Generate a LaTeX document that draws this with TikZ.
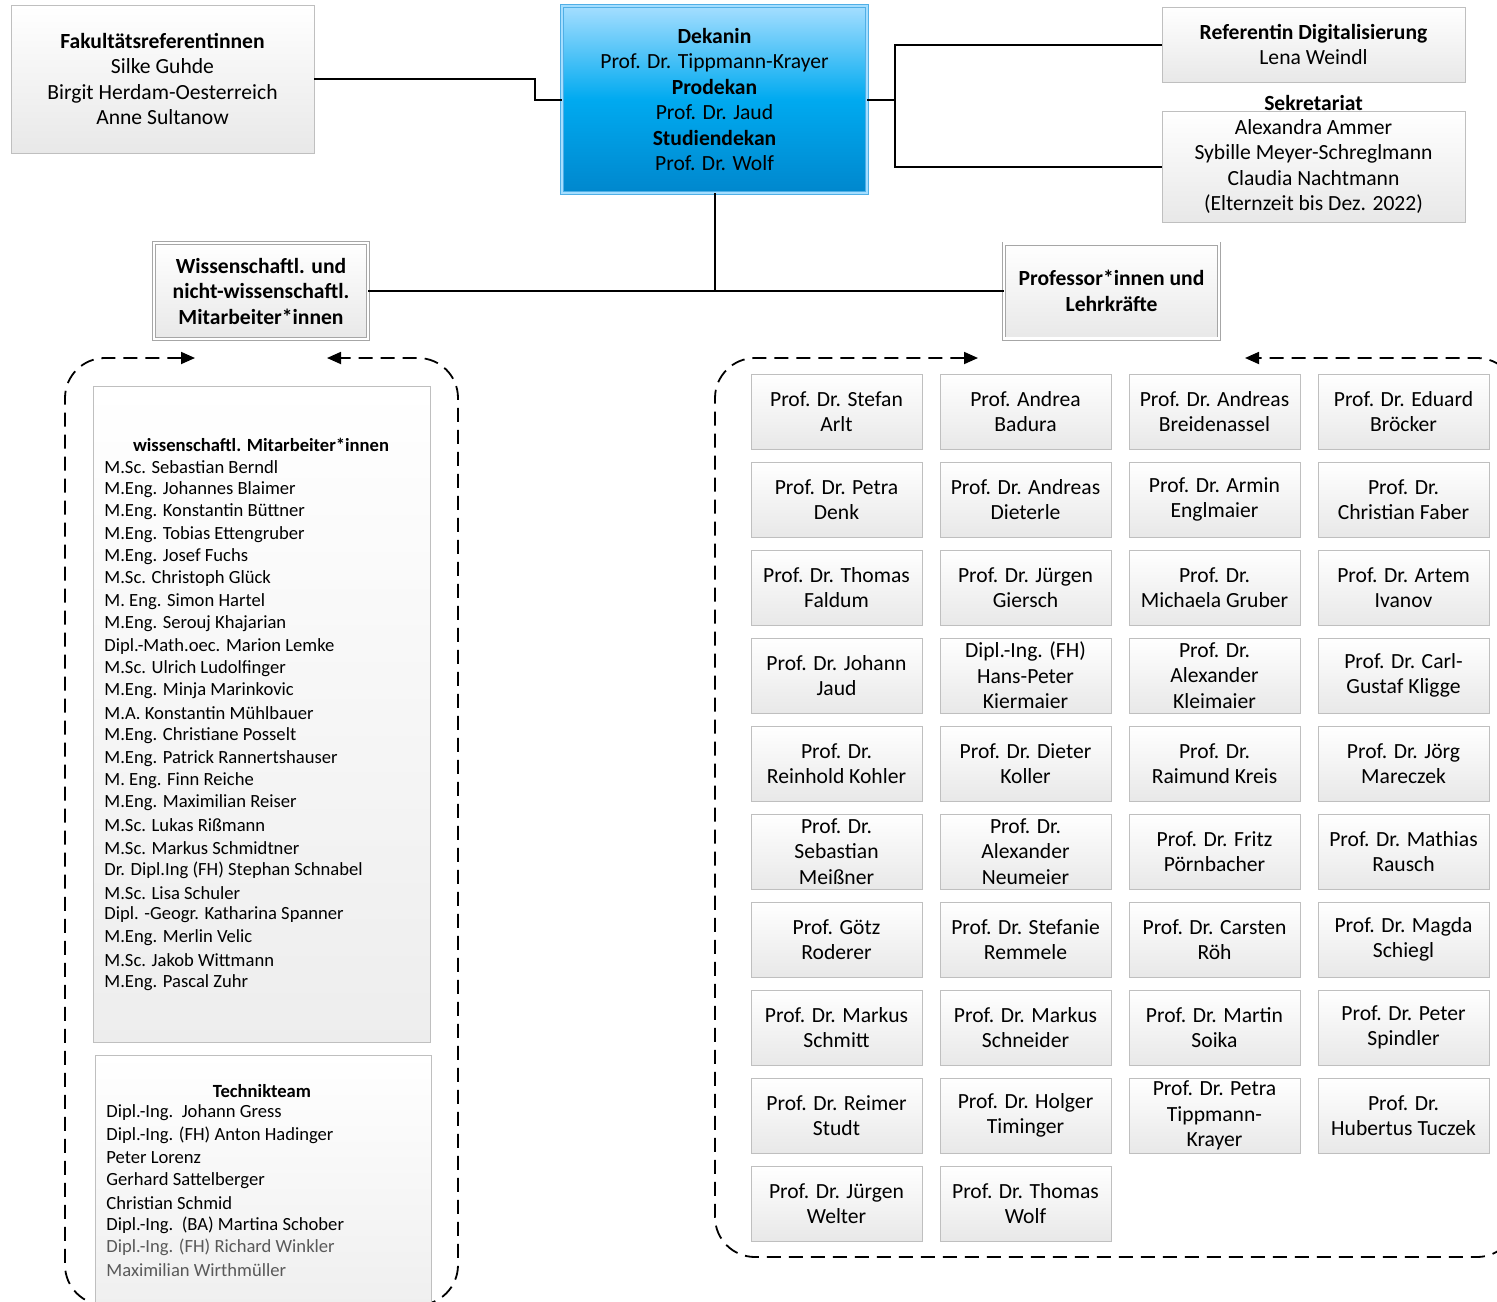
\documentclass[tikz,border=0pt]{standalone}
\usepackage{fontspec}
\setmainfont{Carlito}
\usetikzlibrary{arrows.meta}

\definecolor{deantop}{RGB}{165,222,255}
\definecolor{deanmid}{RGB}{0,170,240}
\definecolor{deanbot}{RGB}{0,135,205}
\definecolor{deanline}{RGB}{80,175,230}
\definecolor{boxline}{RGB}{191,191,191}

\tikzset{
  greybox/.style={draw=boxline, top color=white, bottom color=black!9, align=center, inner sep=0pt},
  profbox/.style={greybox, minimum width=85.5pt, minimum height=37.5pt},
  headbox/.style={greybox, draw=black!35, double=white, double distance=1.2pt},
  listbox/.style={draw=boxline, top color=white, bottom color=black!7, inner sep=0pt},
  listline/.style={anchor=west, inner sep=0pt, font=\fontsize{9.3}{11.2}\selectfont},
  link/.style={line width=1pt},
  looparrow/.style={line width=0.9pt, dash pattern=on 7pt off 4pt, rounded corners=20pt,
    {Triangle[length=7pt,width=6pt]}-{Triangle[length=7pt,width=6pt]}},
}

\begin{document}
\begin{tikzpicture}[x=0.5pt, y=-0.5pt, font=\fontsize{10.8}{12.75}\selectfont]
  \clip (0,0) rectangle (1497,1301);

  % leitung
  \node[greybox, minimum width=151.5pt, minimum height=74pt] (fak) at (162.5,79)
    {\textbf{Fakultätsreferentinnen}\\Silke Guhde\\Birgit Herdam-Oesterreich\\Anne Sultanow};
  \node[draw=deanline, double=deantop, double distance=1pt, top color=deantop, bottom color=deanbot,
    middle color=deanmid, align=center, inner sep=0pt, minimum width=152.5pt, minimum height=93.5pt]
    (dean) at (714.5,99.5)
    {\textbf{Dekanin}\\Prof. Dr. Tippmann-Krayer\\\textbf{Prodekan}\\Prof. Dr. Jaud\\\textbf{Studiendekan}\\Prof. Dr. Wolf};
  \node[greybox, minimum width=151.5pt, minimum height=37.5pt] (ref) at (1313.5,44.5)
    {\textbf{Referentin Digitalisierung}\\Lena Weindl};
  \node (sekhead) at (1313.5,103) {\textbf{Sekretariat}};
  \node[greybox, minimum width=151.5pt, minimum height=55.5pt] (sek) at (1313.5,166.5)
    {Alexandra Ammer\\Sybille Meyer-Schreglmann\\Claudia Nachtmann\\(Elternzeit bis Dez. 2022)};

  \node[headbox, minimum width=107pt, minimum height=48pt] (wiss) at (261,291)
    {\textbf{Wissenschaftl. und}\\\textbf{nicht-wissenschaftl.}\\\textbf{Mitarbeiter*innen}};
  \node[headbox, minimum width=107.5pt, minimum height=47.5pt] (prof) at (1111.5,291)
    {\textbf{Professor*innen und}\\\textbf{Lehrkräfte}};

  \draw[link] (fak.east) -- ++(221,0) |- (dean.west);
  \coordinate (split) at (895,99.5);
  \draw[link] (dean.east) -- (split);
  \draw[link] (ref.west) -| (split) |- (sek.west);
  \coordinate (hub) at (dean.south |- wiss.east);
  \draw[link] (dean.south) -- (hub);
  \draw[link] (wiss.east) -- (prof.west);

  % mitarbeiter
  \draw[looparrow] (195,358) -- (65,358) -- (65,1305) -- (458,1305) -- (458,358) -- (327,358);
  \node[listbox, minimum width=168.5pt, minimum height=328pt] (wlist) at (261.5,714) {};
  \node[font=\fontsize{9.3}{11.2}\selectfont] (whead) at (261,445) {\textbf{wissenschaftl. Mitarbeiter*innen}};
  \foreach \who [count=\i] in {M.Sc. Sebastian Berndl, M.Eng. Johannes Blaimer, M.Eng. Konstantin Büttner,
      M.Eng. Tobias Ettengruber, M.Eng. Josef Fuchs, M.Sc. Christoph Glück, M. Eng. Simon Hartel,
      M.Eng. Serouj Khajarian, Dipl.-Math.oec. Marion Lemke, M.Sc. Ulrich Ludolfinger,
      M.Eng. Minja Marinkovic, M.A. Konstantin Mühlbauer, M.Eng. Christiane Posselt,
      M.Eng. Patrick Rannertshauser, M. Eng. Finn Reiche, M.Eng. Maximilian Reiser,
      M.Sc. Lukas Rißmann, M.Sc. Markus Schmidtner, Dr. Dipl.Ing (FH) Stephan Schnabel,
      M.Sc. Lisa Schuler, Dipl. -Geogr. Katharina Spanner, M.Eng. Merlin Velic,
      M.Sc. Jakob Wittmann, M.Eng. Pascal Zuhr}
    \node[listline] (w\i) at (104,467+22.4*\i-22.4) {\who};

  \node[listbox, minimum width=168pt, minimum height=140pt] (tlist) at (263,1195) {};
  \node[font=\fontsize{9.3}{11.2}\selectfont] (thead) at (262,1091) {\textbf{Technikteam}};
  \foreach \who [count=\i] in {Dipl.-Ing.\ \ Johann Gress, Dipl.-Ing. (FH) Anton Hadinger, Peter Lorenz,
      Gerhard Sattelberger, Christian Schmid, Dipl.-Ing.\ \ (BA) Martina Schober}
    \node[listline] (t\i) at (106,1113+22.4*\i-22.4) {\who};
  \node[listline, text=black!65] (t7) at (106,1247.4) {Dipl.-Ing. (FH) Richard Winkler};
  \node[listline, text=black!65] (t8) at (106,1269.8) {Maximilian Wirthmüller};

  % professoren
  \draw[looparrow] (978,358) -- (715,358) -- (715,1257) -- (1517,1257) -- (1517,358) -- (1245,358);
  \foreach \c/\r/\who in {
      1/1/{Prof. Dr. Stefan\\Arlt}, 2/1/{Prof. Andrea\\Badura}, 3/1/{Prof. Dr. Andreas\\Breidenassel}, 4/1/{Prof. Dr. Eduard\\Bröcker},
      1/2/{Prof. Dr. Petra\\Denk}, 2/2/{Prof. Dr. Andreas\\Dieterle}, 3/2/{Prof. Dr. Armin\\Englmaier}, 4/2/{Prof. Dr.\\Christian Faber},
      1/3/{Prof. Dr. Thomas\\Faldum}, 2/3/{Prof. Dr. Jürgen\\Giersch}, 3/3/{Prof. Dr.\\Michaela Gruber}, 4/3/{Prof. Dr. Artem\\Ivanov},
      1/4/{Prof. Dr. Johann\\Jaud}, 2/4/{Dipl.-Ing. (FH)\\Hans-Peter\\Kiermaier}, 3/4/{Prof. Dr.\\Alexander\\Kleimaier}, 4/4/{Prof. Dr. Carl-\\Gustaf Kligge},
      1/5/{Prof. Dr.\\Reinhold Kohler}, 2/5/{Prof. Dr. Dieter\\Koller}, 3/5/{Prof. Dr.\\Raimund Kreis}, 4/5/{Prof. Dr. Jörg\\Mareczek},
      1/6/{Prof. Dr.\\Sebastian\\Meißner}, 2/6/{Prof. Dr.\\Alexander\\Neumeier}, 3/6/{Prof. Dr. Fritz\\Pörnbacher}, 4/6/{Prof. Dr. Mathias\\Rausch},
      1/7/{Prof. Götz\\Roderer}, 2/7/{Prof. Dr. Stefanie\\Remmele}, 3/7/{Prof. Dr. Carsten\\Röh}, 4/7/{Prof. Dr. Magda\\Schiegl},
      1/8/{Prof. Dr. Markus\\Schmitt}, 2/8/{Prof. Dr. Markus\\Schneider}, 3/8/{Prof. Dr. Martin\\Soika}, 4/8/{Prof. Dr. Peter\\Spindler},
      1/9/{Prof. Dr. Reimer\\Studt}, 2/9/{Prof. Dr. Holger\\Timinger}, 3/9/{Prof. Dr. Petra\\Tippmann-\\Krayer}, 4/9/{Prof. Dr.\\Hubertus Tuczek},
      1/10/{Prof. Dr. Jürgen\\Welter}, 2/10/{Prof. Dr. Thomas\\Wolf}}
    \node[profbox] (p\r-\c) at (836.5+189*\c-189, 411.5+88*\r-88) {\who};
\end{tikzpicture}
\end{document}
